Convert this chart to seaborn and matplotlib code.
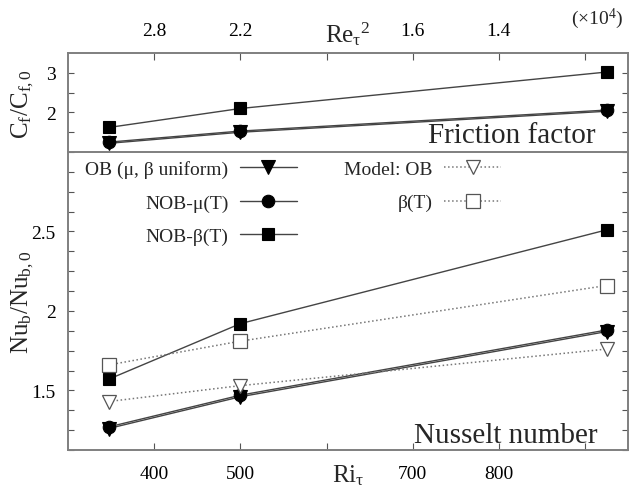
import matplotlib
matplotlib.use("Agg")

import matplotlib.pyplot as plt
from matplotlib.ticker import FixedLocator, MultipleLocator
import seaborn as sns

# ----------------------------------------------------
# Data
# ----------------------------------------------------
ri_tau = [347, 500, 925]

x_ticks = [400, 500, 600, 700, 800, 900]
bottom_tick_labels = ["400", "500", "", "700", "800", ""]
top_tick_labels = ["2.8", "2.2", "", "1.6", "1.4", ""]

# friction factor, Cf/Cf0
cf_ob = [1.22, 1.50, 2.03]
cf_mu = [1.25, 1.53, 2.06]
cf_beta = [1.62, 2.10, 3.02]

# Nusselt number, Nub/Nub0
nu_ob = [1.26, 1.46, 1.87]
nu_mu = [1.27, 1.47, 1.88]
nu_beta = [1.57, 1.92, 2.51]
nu_model_ob = [1.43, 1.53, 1.76]
nu_model_beta = [1.66, 1.81, 2.16]

series_labels = ["OB (μ, β uniform)", "NOB-μ(T)", "NOB-β(T)", "Model: OB", "β(T)"]

# ----------------------------------------------------
# Style
# ----------------------------------------------------
sns.set_theme(style="ticks")
plt.rcParams["font.family"] = ["Liberation Serif", "DejaVu Serif"]
plt.rcParams["mathtext.fontset"] = "custom"
plt.rcParams["mathtext.rm"] = "Liberation Serif"
plt.rcParams["mathtext.it"] = "Liberation Serif:italic"
plt.rcParams["mathtext.default"] = "regular"

FRAME = "#7f7f7f"
LINE = "#444444"
DOT = "#777777"

fig = plt.figure(figsize=(6.3, 4.89), dpi=100)
ax1 = fig.add_axes([0.108, 0.687, 0.889, 0.2025])
ax2 = fig.add_axes([0.108, 0.0777, 0.889, 0.6094])

solid = dict(color=LINE, linewidth=1.0, linestyle="-", markerfacecolor="black",
             markeredgecolor="black", markeredgewidth=0.8)
dotted = dict(color=DOT, linewidth=1.1, linestyle=":", markerfacecolor="white",
              markeredgecolor="#555555", markeredgewidth=0.9)

# ----------------------------------------------------
# Top panel: friction factor
# ----------------------------------------------------
sns.lineplot(x=ri_tau, y=cf_ob, ax=ax1, marker="v", markersize=10, legend=False, **solid)
sns.lineplot(x=ri_tau, y=cf_mu, ax=ax1, marker="o", markersize=9, legend=False, **solid)
sns.lineplot(x=ri_tau, y=cf_beta, ax=ax1, marker="s", markersize=9, legend=False, **solid)

ax1.set_ylim(1.0, 3.5)
ax1.yaxis.set_major_locator(FixedLocator([2, 3]))
ax1.yaxis.set_minor_locator(FixedLocator([1.5, 2.5]))
ax1.set_ylabel("C$_{f}$/C$_{f,0}$", fontsize=18)
ax1.yaxis.set_label_coords(-0.058, 0.5)
ax1.text(0.942, 0.10, "Friction factor", transform=ax1.transAxes,
         ha="right", va="baseline", fontsize=21)

# top axis carries the Re_tau^2 scale
ax1.xaxis.tick_top()
ax1.xaxis.set_label_position("top")
ax1.set_xticks(x_ticks)
ax1.set_xticklabels(top_tick_labels)
ax1.set_xlabel("Re$_{τ}$$^{2}$", fontsize=18)
ax1.xaxis.set_label_coords(0.5, 1.12)
fig.text(0.948, 0.962, r"$(\times 10^{4})$", ha="center", va="center", fontsize=14)

# ----------------------------------------------------
# Bottom panel: Nusselt number
# ----------------------------------------------------
sns.lineplot(x=ri_tau, y=nu_ob, ax=ax2, marker="v", markersize=10, label=series_labels[0], legend=False, **solid)
sns.lineplot(x=ri_tau, y=nu_mu, ax=ax2, marker="o", markersize=9, label=series_labels[1], legend=False, **solid)
sns.lineplot(x=ri_tau, y=nu_beta, ax=ax2, marker="s", markersize=9, label=series_labels[2], legend=False, **solid)
sns.lineplot(x=ri_tau, y=nu_model_ob, ax=ax2, marker="v", markersize=10, label=series_labels[3], legend=False, **dotted)
sns.lineplot(x=ri_tau, y=nu_model_beta, ax=ax2, marker="s", markersize=10, label=series_labels[4], legend=False, **dotted)

ax2.set_ylim(1.125, 3.0)
ax2.yaxis.set_major_locator(FixedLocator([1.5, 2.0, 2.5]))
ax2.yaxis.set_major_formatter(plt.FuncFormatter(lambda v, p: f"{v:g}"))
ax2.yaxis.set_minor_locator(MultipleLocator(0.125))
ax2.set_ylabel("Nu$_{b}$/Nu$_{b,0}$", fontsize=18)
ax2.yaxis.set_label_coords(-0.058, 0.5)
ax2.text(0.945, 0.027, "Nusselt number", transform=ax2.transAxes,
         ha="right", va="baseline", fontsize=21)

ax2.set_xticks(x_ticks)
ax2.set_xticklabels(bottom_tick_labels)
ax2.set_xlabel("Ri$_{τ}$", fontsize=18)
ax2.xaxis.set_label_coords(0.5, -0.04)

handles, labels = ax2.get_legend_handles_labels()
ax2.legend(handles, labels, ncol=2, loc="upper left", bbox_to_anchor=(0.031, 0.972),
           frameon=False, markerfirst=False, fontsize=14, handlelength=2.9,
           handletextpad=0.6, columnspacing=2.45, labelspacing=0.8,
           borderpad=0, borderaxespad=0)

# ----------------------------------------------------
# Shared axis cosmetics
# ----------------------------------------------------
for ax in (ax1, ax2):
    ax.set_xlim(300, 950)
    for side, sp in ax.spines.items():
        sp.set_visible(True)
        sp.set_color(FRAME)
        sp.set_linewidth(1.4)
    ax.tick_params(axis="both", which="both", direction="in", colors="#555555",
                   labelcolor="black", labelsize=14)
    ax.tick_params(axis="y", which="both", left=True, right=True, length=4, width=0.8, pad=9)
    ax.tick_params(axis="x", which="major", length=5, width=0.8, pad=11)
    ax.tick_params(axis="x", which="minor", bottom=False, top=False)

ax1.tick_params(axis="x", which="major", top=True, bottom=False, labeltop=True, labelbottom=False, pad=10)
ax2.tick_params(axis="x", which="major", top=False, bottom=True)
ax1.spines["bottom"].set_visible(False)

fig.savefig("out.png", dpi=100)
